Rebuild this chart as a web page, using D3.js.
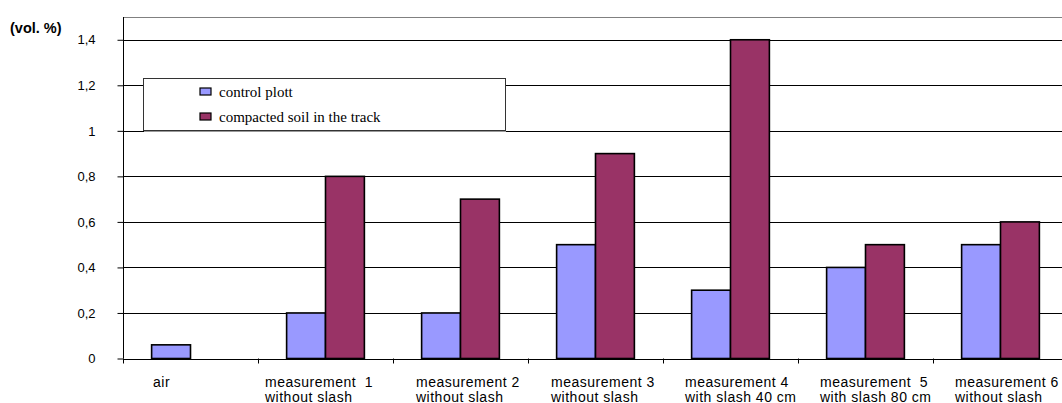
<!DOCTYPE html>
<html>
<head>
<meta charset="utf-8">
<script src="https://cdn.jsdelivr.net/npm/d3@7"></script>
<style>
  html, body { margin: 0; padding: 0; background: #fff; }
  svg { display: block; }
</style>
</head>
<body>
<svg id="chart" width="1062" height="403"></svg>
<script>
// Categories (two-line labels) and the two measured series, in vol. %
const categories = [
  ["air"],
  ["measurement  1", "without slash"],
  ["measurement 2", "without slash"],
  ["measurement 3", "without slash"],
  ["measurement 4", "with slash 40 cm"],
  ["measurement  5", "with slash 80 cm"],
  ["measurement 6", "without slash"]
];
const seriesNames = ["control plott", "compacted soil in the track"];
const controlPlott = [0.06, 0.2, 0.2, 0.5, 0.3, 0.4, 0.5];
const compactedSoil = [0, 0.8, 0.7, 0.9, 1.4, 0.5, 0.6];
const yTicks = [0, 0.2, 0.4, 0.6, 0.8, 1, 1.2, 1.4];
const yLabel = "(vol. %)";

// Layout
const plotLeft = 123, plotRight = 1068, plotTop = 17, plotBottom = 358.5;
const colors = ["#9999FF", "#993366"];
const labelDx = [30, 7, 23, 23, 22, 22, 22];
const sansFont = "Arial, 'Liberation Sans', sans-serif";
const serifFont = "'Times New Roman', 'Liberation Serif', serif";

const svg = d3.select("#chart");
const catKeys = categories.map(c => c.join(" "));

const x0 = d3.scaleBand().domain(catKeys).range([plotLeft, plotRight]).paddingInner(0).paddingOuter(0);
const bw = x0.bandwidth();
const x1 = d3.scaleBand().domain(seriesNames).range([bw * 0.212, bw * 0.788]).padding(0);
const y = d3.scaleLinear().domain([0, 1.5]).range([plotBottom, plotTop]);

// Top frame line
svg.append("line")
  .attr("x1", plotLeft).attr("x2", plotRight)
  .attr("y1", plotTop + 0.5).attr("y2", plotTop + 0.5)
  .attr("stroke", "#808080").attr("stroke-width", 1);

// Gridlines
svg.append("g")
  .selectAll("line")
  .data(yTicks.filter(t => t > 0))
  .join("line")
  .attr("x1", plotLeft).attr("x2", plotRight)
  .attr("y1", d => Math.round(y(d)) + 0.5)
  .attr("y2", d => Math.round(y(d)) + 0.5)
  .attr("stroke", "#000").attr("stroke-width", 1);

// Bars
const rows = catKeys.map((k, i) => ({ key: k, values: [controlPlott[i], compactedSoil[i]] }));
const groups = svg.append("g").selectAll("g")
  .data(rows)
  .join("g")
  .attr("transform", d => `translate(${x0(d.key)},0)`);

groups.selectAll("rect")
  .data(d => d.values.map((v, j) => ({ name: seriesNames[j], v, j })).filter(e => e.v > 0))
  .join("rect")
  .attr("x", d => x1(d.name))
  .attr("width", x1.bandwidth())
  .attr("y", d => y(d.v))
  .attr("height", d => y(0) - y(d.v))
  .attr("fill", d => colors[d.j])
  .attr("stroke", "#000")
  .attr("stroke-width", 1.6);

// Y axis
const yAxis = d3.axisLeft(y)
  .tickValues(yTicks)
  .tickSize(6)
  .tickPadding(22)
  .tickFormat(d => d3.format("~g")(d).replace(".", ","));
const gy = svg.append("g")
  .attr("transform", `translate(${plotLeft + 0.5},0)`)
  .call(yAxis);
gy.select(".domain").remove();
gy.selectAll(".tick line").attr("stroke", "#000");
gy.selectAll(".tick text")
  .attr("font-family", sansFont)
  .attr("font-size", 13)
  .attr("fill", "#000");
svg.append("line")
  .attr("x1", plotLeft + 0.5).attr("x2", plotLeft + 0.5)
  .attr("y1", plotTop).attr("y2", plotBottom)
  .attr("stroke", "#000");

// X axis line with category boundary ticks
svg.append("line")
  .attr("x1", plotLeft).attr("x2", plotRight)
  .attr("y1", Math.round(plotBottom) + 0.5).attr("y2", Math.round(plotBottom) + 0.5)
  .attr("stroke", "#000");
const boundaries = catKeys.map(k => x0(k)).concat([plotRight]);
svg.append("g").selectAll("line")
  .data(boundaries)
  .join("line")
  .attr("x1", d => Math.round(d) + 0.5).attr("x2", d => Math.round(d) + 0.5)
  .attr("y1", plotBottom).attr("y2", plotBottom + 5)
  .attr("stroke", "#000");

// Category labels
const xl = svg.append("g")
  .attr("font-family", sansFont)
  .attr("font-size", 14)
  .attr("letter-spacing", 0.5)
  .attr("fill", "#000");
categories.forEach((lines, i) => {
  const t = xl.append("text")
    .attr("x", x0(catKeys[i]) + labelDx[i])
    .attr("y", 387)
    .style("white-space", "pre");
  lines.forEach((ln, k) => {
    t.append("tspan")
      .attr("x", x0(catKeys[i]) + labelDx[i])
      .attr("dy", k === 0 ? 0 : 15)
      .text(ln);
  });
});

// Y unit label
svg.append("text")
  .attr("x", 10).attr("y", 33)
  .attr("font-family", sansFont)
  .attr("font-size", 14.5)
  .attr("font-weight", "bold")
  .text(yLabel);

// Legend
const lg = svg.append("g");
lg.append("rect")
  .attr("x", 143.5).attr("y", 78.5)
  .attr("width", 362).attr("height", 52)
  .attr("fill", "#fff")
  .attr("stroke", "#333").attr("stroke-width", 1);
lg.append("line")
  .attr("x1", 144).attr("x2", 506)
  .attr("y1", 131.5).attr("y2", 131.5)
  .attr("stroke", "#999");
seriesNames.forEach((name, j) => {
  const yy = 88 + j * 25;
  lg.append("rect")
    .attr("x", 200).attr("y", yy)
    .attr("width", 11).attr("height", 7)
    .attr("fill", colors[j])
    .attr("stroke", "#000").attr("stroke-width", 1.2);
  lg.append("text")
    .attr("x", 219).attr("y", yy + 8.5)
    .attr("font-family", serifFont)
    .attr("font-size", 15)
    .text(name);
});
</script>
</body>
</html>
